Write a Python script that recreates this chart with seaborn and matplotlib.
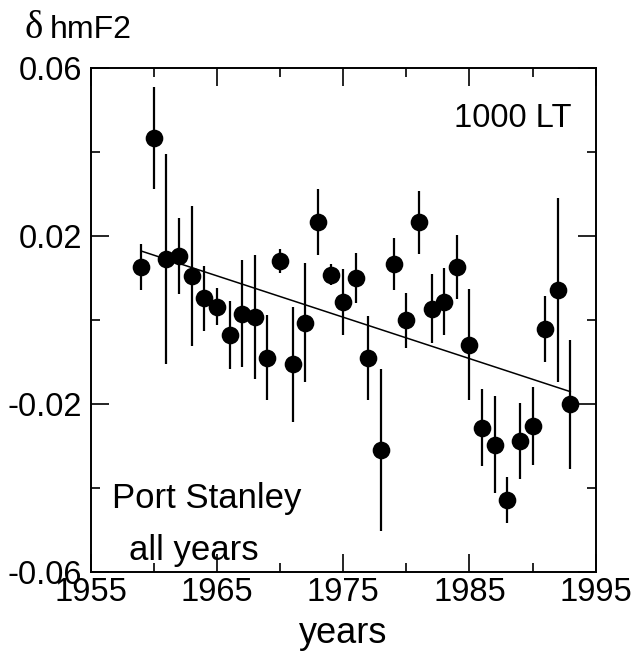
import numpy as np
import pandas as pd
import matplotlib
matplotlib.use("Agg")
import matplotlib.pyplot as plt
from matplotlib.ticker import MultipleLocator
import seaborn as sns

# ---- data ----
years = [1959, 1960, 1961, 1962, 1963, 1964, 1965, 1966, 1967, 1968,
         1969, 1970, 1971, 1972, 1973, 1974, 1975, 1976, 1977, 1978,
         1979, 1980, 1981, 1982, 1983, 1984, 1985, 1986, 1987, 1988,
         1989, 1990, 1991, 1992, 1993]
dhmf2 = [0.0125, 0.0433, 0.0145, 0.0152, 0.0104, 0.0051, 0.0031, -0.0036, 0.0015, 0.0007,
         -0.0090, 0.0140, -0.0106, -0.0007, 0.0233, 0.0108, 0.0043, 0.0099, -0.0090, -0.0309,
         0.0133, -0.0001, 0.0233, 0.0027, 0.0043, 0.0126, -0.0059, -0.0257, -0.0297, -0.0429,
         -0.0289, -0.0253, -0.0022, 0.0072, -0.0201]
err = [0.0055, 0.0122, 0.0250, 0.0090, 0.0167, 0.0078, 0.0044, 0.0080, 0.0127, 0.0147,
       0.0102, 0.0028, 0.0137, 0.0142, 0.0079, 0.0025, 0.0078, 0.0060, 0.0100, 0.0193,
       0.0063, 0.0065, 0.0075, 0.0083, 0.0080, 0.0076, 0.0133, 0.0092, 0.0115, 0.0054,
       0.0090, 0.0092, 0.0078, 0.0219, 0.0154]
xticks_major = [1955, 1965, 1975, 1985, 1995]
yticks_major = [-0.06, -0.02, 0.02, 0.06]
ytick_labels = ["-0.06", "-0.02", "0.02", "0.06"]

df = pd.DataFrame({"year": years, "dhmF2": dhmf2, "err": err})

sns.set_theme(style="ticks")
plt.rcParams["font.family"] = ["Liberation Sans", "DejaVu Sans"]

W, H = 633, 654
fig = plt.figure(figsize=(W / 100, H / 100), dpi=100)
ax = fig.add_axes([90.7 / W, 1 - 571.7 / H, (595.7 - 90.7) / W, (571.7 - 68) / H])

ax.errorbar(df["year"], df["dhmF2"], yerr=df["err"], fmt="none",
            ecolor="black", elinewidth=1.6, capsize=0, zorder=2)
sns.scatterplot(data=df, x="year", y="dhmF2", ax=ax, color="black",
                s=12.7 ** 2, edgecolor="black", linewidth=0, zorder=3)
sns.regplot(data=df, x="year", y="dhmF2", ax=ax, scatter=False, ci=None,
            truncate=True, line_kws={"color": "black", "linewidth": 1.1, "zorder": 2.5})

ax.set_xlim(1955, 1995)
ax.set_ylim(-0.06, 0.06)
ax.set_xticks(xticks_major)
ax.set_xticklabels([str(y) for y in xticks_major])
ax.set_yticks(yticks_major)
ax.set_yticklabels(ytick_labels)
ax.xaxis.set_minor_locator(MultipleLocator(5))
ax.yaxis.set_minor_locator(MultipleLocator(0.02))
ax.tick_params(which="both", direction="in", top=True, right=True,
               color="black", width=1.2, labelsize=23.5, labelcolor="black")
ax.tick_params(which="major", length=13)
ax.tick_params(which="minor", length=6.5)
ax.tick_params(axis="x", which="major", pad=3.5)
ax.tick_params(axis="y", which="major", pad=6)
ax.set_xlabel("")
ax.set_ylabel("")
for sp in ax.spines.values():
    sp.set_visible(True)
    sp.set_color("black")
    sp.set_linewidth(1.4)
ax.set_facecolor("white")
ax.grid(False)

# annotations
ax.text(572, H - 126.7, "1000 LT", transform=None, fontsize=23.5,
        ha="right", va="baseline", color="black")
ax.text(111.7, H - 508.3, "Port Stanley", transform=None, fontsize=25,
        ha="left", va="baseline", color="black")
ax.text(129.3, H - 560, "all years", transform=None, fontsize=25,
        ha="left", va="baseline", color="black")

fig.text(342.7 / W, 1 - 642.7 / H, "years", fontsize=26, ha="center",
         va="baseline", color="black")
fig.text(25 / W, 1 - 38 / H, "δ", fontsize=28, ha="left", va="baseline",
         color="black", family=["Liberation Serif", "DejaVu Serif"])
fig.text(50 / W, 1 - 38 / H, "hmF2", fontsize=23, ha="left", va="baseline",
         color="black")

fig.savefig("out.png", dpi=100, facecolor="white")
